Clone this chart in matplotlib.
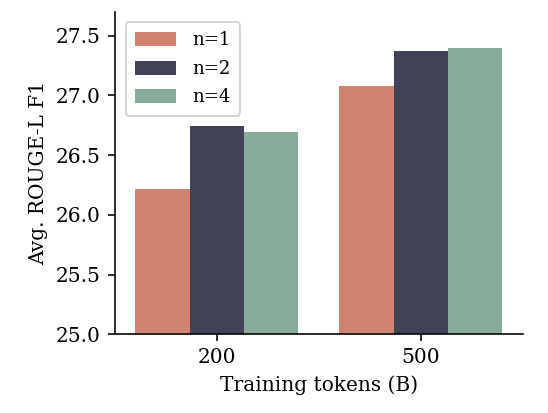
import numpy as np
import matplotlib
matplotlib.use("Agg")
import matplotlib.pyplot as plt

plt.rcParams['font.family'] = ['DejaVu Serif']
plt.rcParams['font.size'] = 10

categories = ['200', '500']
series_names = ['n=1', 'n=2', 'n=4']
values = {
    'n=1': [26.22, 27.08],
    'n=2': [26.74, 27.37],
    'n=4': [26.69, 27.40],
}
colors = ['#D18371', '#414257', '#87AD9A']

DPI = 145
fig, ax = plt.subplots(figsize=(548 / DPI, 413 / DPI), dpi=DPI)

x = np.arange(len(categories))
group_w = 0.8
bw = group_w / len(series_names)
for i, name in enumerate(series_names):
    offs = -group_w / 2 + bw * (i + 0.5)
    ax.bar(x + offs, values[name], width=bw, color=colors[i], label=name)

ax.set_xticks(x)
ax.set_xticklabels(categories)
ax.set_xlim(-0.5, 1.5)
ax.set_ylim(25.0, 27.7)
ax.set_yticks([25.0, 25.5, 26.0, 26.5, 27.0, 27.5])
ax.set_xlabel('Training tokens (B)')
ax.set_ylabel('Avg. ROUGE-L F1')
ax.spines['top'].set_visible(False)
ax.spines['right'].set_visible(False)

ax.legend(loc='upper left', fontsize=9, handlelength=2.3, handleheight=0.81,
          handletextpad=0.9, borderpad=0.5, labelspacing=0.58, borderaxespad=0.59)

plt.subplots_adjust(left=0.2099, right=0.9538, top=0.9717, bottom=0.1906)
fig.savefig('out.png', dpi=DPI)
